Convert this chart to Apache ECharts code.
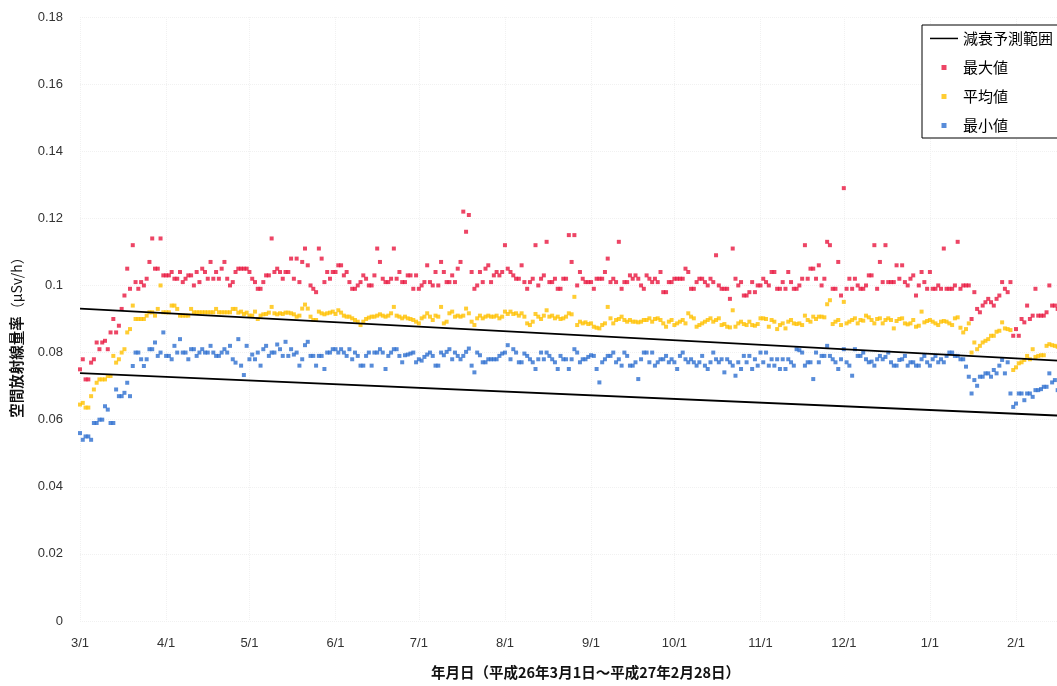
<!DOCTYPE html>
<html>
<head>
<meta charset="utf-8">
<script src="https://cdn.jsdelivr.net/npm/echarts@6/dist/echarts.min.js"></script>
<style>
html,body{margin:0;padding:0;background:#fff;overflow:hidden;width:1057px;height:686px;}
#chart{width:1100px;height:686px;}
</style>
</head>
<body>
<div id="chart"></div>
<script>
// Tick labels (month starts) shown on the x axis
const monthLabels = ['3/1','4/1','5/1','6/1','7/1','8/1','9/1','10/1','11/1','12/1','1/1','2/1'];

// Daily categories: 2014/3/1 .. 2015/2/28
const days = [];
for (let i = 0; i < 365; i++) {
  const d = new Date(2014, 2, 1 + i);
  days.push((d.getMonth() + 1) + '/' + d.getDate());
}

// 最大値 (daily maximum, µSv/h)
const maxValues = [
0.075,0.078,0.072,0.072,0.077,0.078,0.083,0.081,0.083,0.0835,0.081,0.086,0.090,0.086,0.088,0.093,0.097,0.105,0.099,0.112,
0.101,0.099,0.101,0.100,0.102,0.107,0.114,0.105,0.105,0.114,0.103,0.103,0.103,0.104,0.102,0.102,0.104,0.101,0.102,0.103,
0.103,0.100,0.104,0.101,0.105,0.104,0.102,0.107,0.102,0.104,0.102,0.105,0.107,0.102,0.100,0.101,0.104,
0.105,0.105,0.105,0.105,0.104,0.102,0.101,0.099,0.099,0.101,0.103,0.103,0.114,0.104,0.105,0.104,0.102,0.104,0.104,0.108,
0.102,0.108,0.101,0.107,0.111,0.106,0.100,0.099,0.098,0.111,0.108,0.101,0.104,0.102,0.104,0.104,0.106,0.106,0.103,0.104,
0.101,0.099,0.099,0.100,0.101,0.103,0.102,0.100,0.100,0.103,0.111,0.107,0.102,0.101,0.101,0.102,0.111,0.102,
0.104,0.101,0.101,0.103,0.103,0.099,0.103,0.099,0.100,0.101,0.106,0.101,0.100,0.104,0.100,0.107,0.104,0.101,0.101,0.103,
0.101,0.105,0.107,0.122,0.116,0.121,0.104,0.099,0.100,0.104,0.101,0.105,0.106,0.101,0.103,0.104,0.103,0.104,0.112,0.105,
0.104,0.103,0.102,0.102,0.106,0.101,0.099,0.101,0.102,0.112,0.100,0.102,0.103,0.113,0.101,0.101,0.102,0.099,
0.099,0.102,0.102,0.115,0.107,0.115,0.100,0.104,0.102,0.101,0.101,0.101,0.099,0.102,0.102,0.102,0.104,0.108,0.101,0.102,
0.101,0.113,0.099,0.101,0.101,0.103,0.102,0.103,0.102,0.100,0.099,0.103,0.102,0.101,0.102,0.101,0.104,0.098,0.098,0.101,
0.101,0.102,0.102,0.102,0.102,0.105,0.104,0.099,0.099,0.101,0.102,0.102,0.101,0.100,0.102,0.101,0.109,0.100,
0.099,0.099,0.099,0.096,0.111,0.102,0.100,0.101,0.097,0.097,0.098,0.101,0.098,0.100,0.100,0.102,0.101,0.100,0.104,0.104,
0.099,0.099,0.101,0.099,0.104,0.101,0.099,0.099,0.100,0.102,0.112,0.102,0.105,0.105,0.102,0.106,0.100,0.102,0.113,0.112,
0.099,0.099,0.107,0.097,0.129,0.099,0.102,0.099,0.102,0.100,0.099,0.099,0.100,0.103,0.103,0.112,0.099,0.107,
0.101,0.112,0.101,0.101,0.101,0.106,0.102,0.106,0.101,0.100,0.102,0.103,0.097,0.100,0.104,0.101,0.099,0.104,0.099,0.099,
0.100,0.099,0.111,0.099,0.099,0.099,0.100,0.113,0.099,0.100,0.100,0.100,0.090,0.098,0.093,0.092,0.094,0.095,0.096,0.095,
0.094,0.096,0.097,0.101,0.099,0.098,0.101,0.085,0.087,0.085,0.090,0.089,0.094,0.090,0.091,0.099,0.091,0.091,0.091,0.092,
0.100,0.094,0.094,0.093
];

// 平均値 (daily mean)
const meanValues = [
0.0645,0.065,0.0636,0.0636,0.067,0.069,0.071,0.072,0.072,0.072,0.073,0.073,0.079,0.077,0.078,0.080,0.081,0.086,0.087,0.094,
0.090,0.090,0.090,0.090,0.091,0.092,0.092,0.091,0.093,0.100,0.092,0.092,0.092,0.094,0.094,0.093,0.091,0.091,0.091,0.091,
0.093,0.092,0.092,0.092,0.092,0.092,0.092,0.092,0.092,0.093,0.092,0.092,0.092,0.092,0.092,0.093,0.093,
0.0919,0.0922,0.0915,0.0919,0.0910,0.0910,0.0922,0.0900,0.0910,0.0914,0.0915,0.0919,0.0936,0.0917,0.0914,0.0917,0.0915,0.0919,0.0919,0.0917,
0.0914,0.0907,0.0910,0.0931,0.0943,0.0931,0.0907,0.0897,0.0897,0.0922,0.0917,0.0914,0.0917,0.0919,0.0922,0.0915,0.0926,0.0919,0.0910,0.0907,
0.0907,0.0902,0.0897,0.0892,0.0882,0.0892,0.0900,0.0904,0.0907,0.0907,0.0910,0.0914,0.0910,0.0907,0.0910,0.0917,0.0936,0.0910,
0.0907,0.0902,0.0907,0.0902,0.0900,0.0897,0.0892,0.0887,0.0902,0.0907,0.0917,0.0907,0.0897,0.0910,0.0907,0.0936,0.0887,0.0892,0.0917,0.0922,
0.0907,0.0910,0.0907,0.0910,0.0931,0.0917,0.0892,0.0882,0.0902,0.0910,0.0902,0.0907,0.0910,0.0907,0.0907,0.0910,0.0902,0.0907,0.0922,0.0915,
0.0922,0.0915,0.0917,0.0910,0.0917,0.0907,0.0887,0.0882,0.0892,0.0915,0.0907,0.0900,0.0910,0.0926,0.0907,0.0910,0.0902,0.0907,
0.0900,0.0902,0.0907,0.0917,0.0914,0.0966,0.0882,0.0892,0.0887,0.0890,0.0885,0.0887,0.0877,0.0874,0.0872,0.0882,0.0887,0.0936,0.0902,0.0887,
0.0897,0.0900,0.0907,0.0897,0.0892,0.0897,0.0892,0.0892,0.0890,0.0892,0.0897,0.0897,0.0902,0.0892,0.0900,0.0902,0.0897,0.0887,0.0877,0.0892,
0.0897,0.0882,0.0887,0.0892,0.0897,0.0887,0.0917,0.0907,0.0902,0.0877,0.0882,0.0887,0.0892,0.0897,0.0902,0.0892,0.0897,0.0902,
0.0882,0.0885,0.0877,0.0875,0.0926,0.0877,0.0887,0.0892,0.0885,0.0882,0.0892,0.0882,0.0880,0.0885,0.0902,0.0902,0.0900,0.0877,0.0897,0.0892,
0.0870,0.0882,0.0887,0.0872,0.0892,0.0897,0.0887,0.0885,0.0887,0.0882,0.0910,0.0897,0.0892,0.0907,0.0900,0.0907,0.0907,0.0905,0.0944,0.0956,
0.0885,0.0892,0.0897,0.0882,0.0951,0.0887,0.0892,0.0897,0.0902,0.0887,0.0897,0.0895,0.0910,0.0905,0.0897,0.0887,0.0900,0.0902,
0.0887,0.0897,0.0902,0.0897,0.0872,0.0894,0.0900,0.0902,0.0887,0.0884,0.0887,0.0897,0.0877,0.0880,0.0922,0.0890,0.0894,0.0897,0.0892,0.0887,
0.0882,0.0892,0.0894,0.0892,0.0887,0.0882,0.0902,0.0905,0.0874,0.0860,0.0870,0.0887,0.0800,0.0830,0.0810,0.0820,0.0830,0.0835,0.0840,0.0850,
0.0850,0.0862,0.0865,0.0890,0.0872,0.0870,0.0867,0.0748,0.0756,0.0768,0.0771,0.0778,0.0790,0.0780,0.0810,0.0787,0.0790,0.0792,0.0792,0.0820,
0.0825,0.0822,0.0820,0.0817
];

// 最小値 (daily minimum)
const minValues = [
0.056,0.054,0.055,0.055,0.054,0.059,0.059,0.060,0.060,0.064,0.063,0.059,0.059,0.069,0.067,0.067,0.068,0.071,0.067,0.076,
0.080,0.080,0.078,0.076,0.078,0.081,0.081,0.083,0.079,0.080,0.086,0.079,0.079,0.078,0.082,0.080,0.084,0.080,0.080,0.078,
0.081,0.081,0.079,0.080,0.081,0.080,0.080,0.082,0.080,0.079,0.079,0.080,0.081,0.080,0.082,0.078,0.077,
0.0840,0.0761,0.0733,0.0820,0.0780,0.0794,0.0780,0.0800,0.0761,0.0810,0.0820,0.0790,0.0800,0.0800,0.0824,0.0810,0.0790,0.0832,0.0790,0.0810,
0.0794,0.0800,0.0761,0.0780,0.0822,0.0832,0.0790,0.0790,0.0761,0.0790,0.0790,0.0751,0.0800,0.0800,0.0810,0.0810,0.0800,0.0810,0.0800,0.0790,
0.0810,0.0780,0.0800,0.0790,0.0761,0.0761,0.0790,0.0800,0.0761,0.0800,0.0800,0.0810,0.0800,0.0751,0.0790,0.0800,0.0810,0.0810,
0.0790,0.0771,0.0792,0.0794,0.0797,0.0800,0.0771,0.0780,0.0776,0.0787,0.0794,0.0800,0.0790,0.0761,0.0761,0.0800,0.0792,0.0802,0.0810,0.0780,
0.0800,0.0790,0.0780,0.0790,0.0802,0.0812,0.0761,0.0741,0.0800,0.0792,0.0771,0.0771,0.0780,0.0780,0.0780,0.0780,0.0790,0.0797,0.0800,0.0822,
0.0780,0.0810,0.0800,0.0771,0.0771,0.0797,0.0790,0.0780,0.0771,0.0751,0.0780,0.0800,0.0780,0.0800,0.0790,0.0780,0.0771,0.0751,
0.0790,0.0780,0.0780,0.0751,0.0780,0.0810,0.0800,0.0771,0.0780,0.0780,0.0787,0.0792,0.0790,0.0751,0.0711,0.0771,0.0780,0.0790,0.0790,0.0800,
0.0771,0.0780,0.0761,0.0800,0.0790,0.0761,0.0761,0.0771,0.0721,0.0780,0.0800,0.0800,0.0771,0.0800,0.0761,0.0771,0.0780,0.0780,0.0790,0.0771,
0.0780,0.0771,0.0751,0.0790,0.0800,0.0780,0.0771,0.0780,0.0771,0.0761,0.0771,0.0790,0.0761,0.0751,0.0771,0.0800,0.0780,0.0771,
0.0780,0.0741,0.0780,0.0771,0.0761,0.0731,0.0771,0.0751,0.0790,0.0771,0.0790,0.0751,0.0780,0.0761,0.0800,0.0771,0.0800,0.0761,0.0780,0.0761,
0.0780,0.0751,0.0780,0.0751,0.0780,0.0771,0.0761,0.0810,0.0807,0.0800,0.0761,0.0771,0.0771,0.0721,0.0800,0.0771,0.0790,0.0790,0.0820,0.0790,
0.0780,0.0771,0.0751,0.0780,0.0810,0.0771,0.0761,0.0731,0.0810,0.0790,0.0790,0.0800,0.0780,0.0771,0.0773,0.0761,0.0780,0.0790,
0.0780,0.0787,0.0800,0.0771,0.0761,0.0761,0.0778,0.0780,0.0790,0.0761,0.0771,0.0771,0.0761,0.0761,0.0780,0.0790,0.0771,0.0761,0.0780,0.0790,
0.0771,0.0780,0.0771,0.0790,0.0800,0.0800,0.0790,0.0790,0.0780,0.0780,0.0758,0.0728,0.0678,0.0718,0.0701,0.0728,0.0728,0.0738,0.0738,0.0728,
0.0748,0.0738,0.0761,0.0778,0.0738,0.0771,0.0678,0.0638,0.0648,0.0678,0.0678,0.0658,0.0678,0.0678,0.0668,0.0688,0.0688,0.0691,0.0698,0.0698,
0.0738,0.0711,0.0718,0.0688
];

// 減衰予測範囲 (decay prediction range): [day index, value] end points
const decayUpper = [[0, 0.0931], [364, 0.0771]];
const decayLower = [[0, 0.0739], [364, 0.0608]];

const yTicks = { min: 0, max: 0.18, interval: 0.02 };

const isMonthStart = (idx, val) => monthLabels.indexOf(val) >= 0;
const sq = 'path://M0,0M28,14M11.5,4.5h5v5h-5z';
const bar = 'path://M0,0M28,14M0,6.2h28v1.5h-28z';

const chart = echarts.init(document.getElementById('chart'));
chart.setOption({
  animation: false,
  backgroundColor: '#fff',
  grid: { left: 80, top: 17, width: 1011, height: 604, containLabel: false },
  legend: {
    left: 922, top: 25, orient: 'vertical',
    itemWidth: 28, itemHeight: 14, itemGap: 14,
    padding: [6, 14, 5, 8],
    borderColor: '#000', borderWidth: 1, backgroundColor: '#fff',
    textStyle: { fontSize: 15, color: '#000', fontFamily: 'Noto Sans CJK JP' },
    data: [
      { name: '減衰予測範囲', icon: bar },
      { name: '最大値', icon: sq },
      { name: '平均値', icon: sq },
      { name: '最小値', icon: sq }
    ]
  },
  xAxis: {
    type: 'category', data: days, boundaryGap: false,
    axisLine: { show: false }, axisTick: { show: false },
    axisLabel: { interval: isMonthStart, color: '#333', fontSize: 13, margin: 16, fontFamily: 'Liberation Sans' },
    splitLine: { show: true, interval: isMonthStart, lineStyle: { color: '#f1f1f1', type: 'dotted' } },
    name: '年月日（平成26年3月1日～平成27年2月28日）',
    nameLocation: 'middle', nameGap: 44,
    nameTextStyle: { fontSize: 14.5, fontWeight: 'bold', color: '#111', fontFamily: 'Noto Sans CJK JP' }
  },
  yAxis: {
    type: 'value', min: yTicks.min, max: yTicks.max, interval: yTicks.interval,
    axisLine: { show: false }, axisTick: { show: false },
    axisLabel: { color: '#333', fontSize: 13, margin: 17, fontFamily: 'Liberation Sans',
      formatter: v => String(parseFloat(v.toFixed(2))) },
    splitLine: { lineStyle: { color: '#f1f1f1', type: 'dotted' } },
    name: '{b|空間放射線量率}{n|（μSv/h）}',
    nameLocation: 'middle', nameGap: 56, nameRotate: 90,
    nameTextStyle: {
      padding: [0, 30, 0, 0],
      rich: {
        b: { fontSize: 14.5, fontWeight: 'bold', color: '#111', fontFamily: 'Noto Sans CJK JP' },
        n: { fontSize: 14, fontWeight: 'normal', color: '#111', fontFamily: 'Noto Sans CJK JP' }
      }
    }
  },
  series: [
    { name: '最大値', type: 'scatter', data: maxValues, symbol: 'rect', symbolSize: 4,
      itemStyle: { color: '#E8173F' } },
    { name: '平均値', type: 'scatter', data: meanValues, symbol: 'rect', symbolSize: 4,
      itemStyle: { color: '#FFC000' } },
    { name: '最小値', type: 'scatter', data: minValues, symbol: 'rect', symbolSize: 4,
      itemStyle: { color: '#2E6FCF' } },
    { name: '減衰予測範囲', type: 'line', data: decayUpper, symbol: 'none',
      lineStyle: { color: '#000', width: 1.8 }, itemStyle: { color: '#000' } },
    { name: '減衰予測範囲', type: 'line', data: decayLower, symbol: 'none',
      lineStyle: { color: '#000', width: 1.8 }, itemStyle: { color: '#000' } }
  ]
});
</script>
</body>
</html>
